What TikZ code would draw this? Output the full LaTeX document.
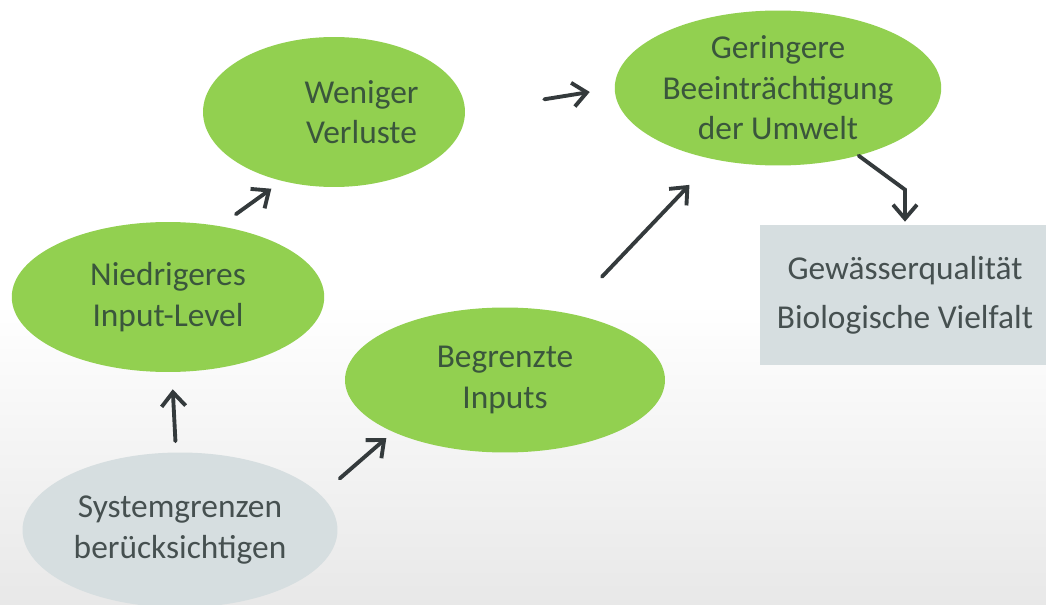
\documentclass[tikz,border=0pt]{standalone}
\usepackage{fontspec}
\setmainfont{Carlito}
\usetikzlibrary{shapes.geometric,arrows.meta,calc}

\definecolor{leaf}{RGB}{146,208,80}
\definecolor{mist}{RGB}{214,222,224}
\definecolor{ink}{RGB}{52,58,60}
\definecolor{leafink}{RGB}{58,86,60}
\definecolor{mistink}{RGB}{70,80,80}

\tikzset{
  greenell/.style={ellipse, fill=leaf, draw=none, inner sep=0pt, align=center,
    text=leafink, font=\fontsize{19}{23}\selectfont},
  greyell/.style={ellipse, fill=mist, draw=none, inner sep=0pt, align=center,
    text=mistink, font=\fontsize{19}{23}\selectfont},
  greybox/.style={rectangle, fill=mist, draw=none, inner sep=0pt, align=center,
    text=mistink, font=\fontsize{19}{28}\selectfont},
  arr/.style={draw=ink, line width=2.2pt, line cap=round,
    -{Straight Barb[length=2.8mm, width=4.8mm, line width=2.2pt]}}
}

\begin{document}
\begin{tikzpicture}[x=0.02cm, y=-0.02cm]
  \shade[top color=white, bottom color=black!9, middle color=white] (0,0) rectangle (1046,605);
  \useasboundingbox (0,0) rectangle (1046,605);
  % nodes
  \node[greenell, minimum width=5.24cm, minimum height=3.0cm] (wen) at (334,112)
    {\hspace*{1.1cm}Weniger\\\hspace*{1.1cm}Verluste};
  \node[greenell, minimum width=6.2cm, minimum height=3.1cm] (ger) at (778,88)
    {Geringere\\Beeinträchtigung\\der Umwelt};
  \node[greenell, minimum width=6.25cm, minimum height=3.0cm] (nie) at (168,297)
    {Niedrigeres\\Input-Level};
  \node[greenell, minimum width=6.4cm, minimum height=2.9cm] (beg) at (505,380)
    {Begrenzte\\Inputs};
  \node[greyell, minimum width=6.3cm, minimum height=3.1cm] (sys) at (180,530)
    {Systemgrenzen\\berücksichtigen};
  \node[greybox, minimum width=5.8cm, minimum height=2.8cm] (box) at (905,295)
    {Gewässerqualität\\Biologische Vielfalt};
  % connectors
  \draw[arr, shorten <=1.6cm, shorten >=0.5cm] (wen.east) -- (ger.west);
  \draw[arr, shorten <=0.4cm, shorten >=0.26cm] (nie.54) -- (wen.233);
  \draw[arr, shorten <=0.22cm, shorten >=0.34cm] (sys) -- (nie);
  \draw[arr, shorten <=0.5cm, shorten >=0.18cm] (sys.14) -- (beg.205);
  \draw[arr, shorten <=1.0cm, shorten >=0.7cm] (beg.47) -- (ger.228);
  \draw[arr, shorten >=0.06cm] (ger.-40) -- ($(box.north)+(0,-35)$) -- (box.north);
\end{tikzpicture}
\end{document}
